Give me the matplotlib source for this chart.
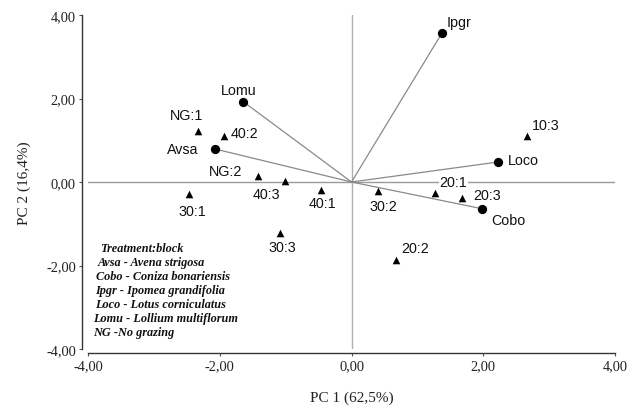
import matplotlib
matplotlib.use("Agg")
import matplotlib.pyplot as plt

# Species vectors (circles)
species = ["Ipgr", "Loco", "Cobo", "Lomu", "Avsa"]
species_x = [1.37, 2.23, 1.98, -1.64, -2.07]
species_y = [3.56, 0.48, -0.64, 1.92, 0.79]

# Treatment:block scores (triangles)
treat = ["NG:1", "40:2", "NG:2", "40:3", "40:1", "30:1", "30:3",
         "10:3", "20:1", "20:3", "30:2", "20:2"]
treat_x = [-2.33, -1.93, -1.42, -1.01, -0.47, -2.46, -1.09,
           2.67, 1.27, 1.68, 0.40, 0.68]
treat_y = [1.23, 1.09, 0.15, 0.03, -0.19, -0.29, -1.22,
           1.09, -0.26, -0.39, -0.22, -1.88]

legend_lines = ["Treatment:block", "Avsa - Avena strigosa", "Cobo - Coniza bonariensis",
                "Ipgr - Ipomea grandifolia", "Loco - Lotus corniculatus",
                "Lomu - Lollium multiflorum", "NG -No grazing"]

xticks = [-4, -2, 0, 2, 4]
yticks = [-4, -2, 0, 2, 4]
xlabel = "PC 1 (62,5%)"
ylabel = "PC 2 (16,4%)"

# label offsets in pixels (style only)
sp_off = {"Ipgr": (17, 11), "Loco": (25, 2), "Cobo": (26, -11),
          "Lomu": (-5, 12), "Avsa": (-32.5, 0)}
tr_off = {"NG:1": (-11, 15.7), "40:2": (20.5, 3), "NG:2": (-32.7, 5),
          "40:3": (-18.6, -13.3), "40:1": (2.3, -13.3), "30:1": (2.8, -16.7),
          "30:3": (3, -14.3), "10:3": (18.5, 11.7), "20:1": (18, 11.3),
          "20:3": (24.5, 3.3), "30:2": (5.7, -14.4), "20:2": (18.5, 12.7)}

W, H = 640, 406
fig = plt.figure(figsize=(W / 100, H / 100), dpi=100)
ax = fig.add_axes([88 / W, 1 - 350 / H, (615 - 88) / W, (350 - 16) / H])
ax.set_xlim(-4, 4)
ax.set_ylim(-4, 4)

# reference axes through origin
ax.plot([-4, 4], [0, 0], color="#9a9a9a", lw=1.0, zorder=1)
ax.plot([0, 0], [-4, 4], color="#b0b0b0", lw=1.0, zorder=1)

# vectors
for x, y in zip(species_x, species_y):
    ax.plot([0, x], [0, y], color="#8a8a8a", lw=0.9, zorder=2)
ax.scatter(species_x, species_y, s=32, marker="o", color="black", zorder=4)
ax.scatter(treat_x, treat_y, s=30, marker="^", color="black", zorder=4, linewidths=0)

lab_font = dict(family="Liberation Sans", size=10.3, color="#111111")
for n, x, y in zip(species, species_x, species_y):
    dx, dy = sp_off[n]
    ax.annotate(n, (x, y), xytext=(dx, dy), textcoords="offset pixels",
                ha="center", va="center", zorder=5, **lab_font)
for n, x, y in zip(treat, treat_x, treat_y):
    dx, dy = tr_off[n]
    bbox = None
    if n == "20:1":
        bbox = dict(facecolor="white", edgecolor="none", pad=0.5)
    ax.annotate(n, (x, y), xytext=(dx, dy), textcoords="offset pixels",
                ha="center", va="center", zorder=5, bbox=bbox, **lab_font)

# legend text block
leg_x_px = [100, 97.5, 96, 95, 95.5, 93.5, 92.7]
for i, (t, xp) in enumerate(zip(legend_lines, leg_x_px)):
    yp = 249 + 14 * i
    fig.text(xp / W, 1 - yp / H, t, family="Liberation Serif", style="italic",
             weight="bold", size=8.8, ha="left", va="center", color="#111111")

# spines
for s in ["top", "right"]:
    ax.spines[s].set_visible(False)
ax.spines["left"].set_position(("outward", 4.3))
ax.spines["bottom"].set_position(("outward", 2.9))
ax.spines["left"].set_bounds(-4, 4)
ax.spines["bottom"].set_bounds(-4, 4)
for s in ["left", "bottom"]:
    ax.spines[s].set_color("#333333")
    ax.spines[s].set_linewidth(1.0)

ax.set_xticks(xticks)
ax.set_yticks(yticks)
ax.set_xticklabels([f"{v:.2f}".replace(".", ",") for v in xticks])
ax.set_yticklabels([f"{v:.2f}".replace(".", ",") for v in yticks])
ax.tick_params(axis="both", direction="out", length=2.5, width=0.8, color="#555555",
               labelsize=10.4, pad=2)
for lab in ax.get_xticklabels() + ax.get_yticklabels():
    lab.set_family("Liberation Serif")
    lab.set_color("#222222")

ax.set_xlabel(xlabel, family="Liberation Serif", size=11, color="#222222", labelpad=13)
ax.set_ylabel(ylabel, family="Liberation Serif", size=11, color="#222222", labelpad=11)

fig.savefig("out.png", dpi=100)
